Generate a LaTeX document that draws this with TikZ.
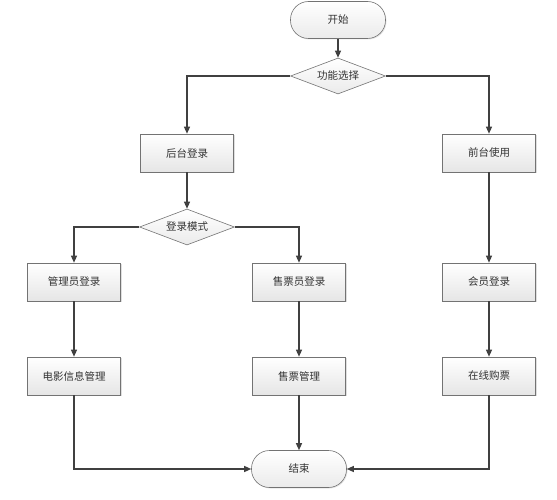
\documentclass[tikz,border=0pt]{standalone}
\usepackage{fontspec}
\newfontfamily\cjk{Noto Sans CJK SC}
\usetikzlibrary{shapes.geometric,arrows.meta,shadows}
\begin{document}
\begin{tikzpicture}[x=1pt,y=-1pt,
  every node/.style={font=\cjk\fontsize{10.5}{12}\selectfont, text=black!80},
  procbox/.style={draw=black!55, line width=0.6pt, minimum width=93pt, minimum height=38pt,
    top color=white, bottom color=black!10, drop shadow={shadow xshift=1pt, shadow yshift=-1pt, opacity=0.25}},
  term/.style={draw=black!55, line width=0.6pt, rounded corners=18pt, minimum width=95pt, minimum height=37pt,
    top color=white, bottom color=black!8, drop shadow={shadow xshift=1pt, shadow yshift=-1pt, opacity=0.2}},
  decide/.style={draw=black!55, line width=0.6pt, diamond, aspect=2.6, inner sep=0pt,
    minimum width=95pt, minimum height=36pt, top color=white, bottom color=black!8},
  conn/.style={draw=black!75, line width=1.2pt, -{Triangle[length=7pt,width=6pt]}}
]
\useasboundingbox (0,0) rectangle (557,500);
\node[term] (start) at (338,20) {开始};
\node[decide] (sel) at (338,76) {功能选择};
\node[procbox] (back) at (187,153) {后台登录};
\node[procbox] (front) at (489,153) {前台使用};
\node[decide] (mode) at (187,227) {登录模式};
\node[procbox] (admin) at (74,282) {管理员登录};
\node[procbox] (seller) at (299,282) {售票员登录};
\node[procbox] (member) at (489,282) {会员登录};
\node[procbox] (movie) at (74,376) {电影信息管理};
\node[procbox] (sale) at (299,376) {售票管理};
\node[procbox] (buy) at (489,376) {在线购票};
\node[term] (end) at (299,469) {结束};

\draw[conn] (start) -- (sel);
\draw[conn] (sel.west) -| (back.north);
\draw[conn] (sel.east) -| (front.north);
\draw[conn] (back) -- (mode);
\draw[conn] (mode.west) -| (admin.north);
\draw[conn] (mode.east) -| (seller.north);
\draw[conn] (front) -- (member);
\draw[conn] (admin) -- (movie);
\draw[conn] (seller) -- (sale);
\draw[conn] (member) -- (buy);
\draw[conn] (sale) -- (end);
\draw[conn] (movie.south) |- (end.west);
\draw[conn] (buy.south) |- (end.east);
\end{tikzpicture}
\end{document}
